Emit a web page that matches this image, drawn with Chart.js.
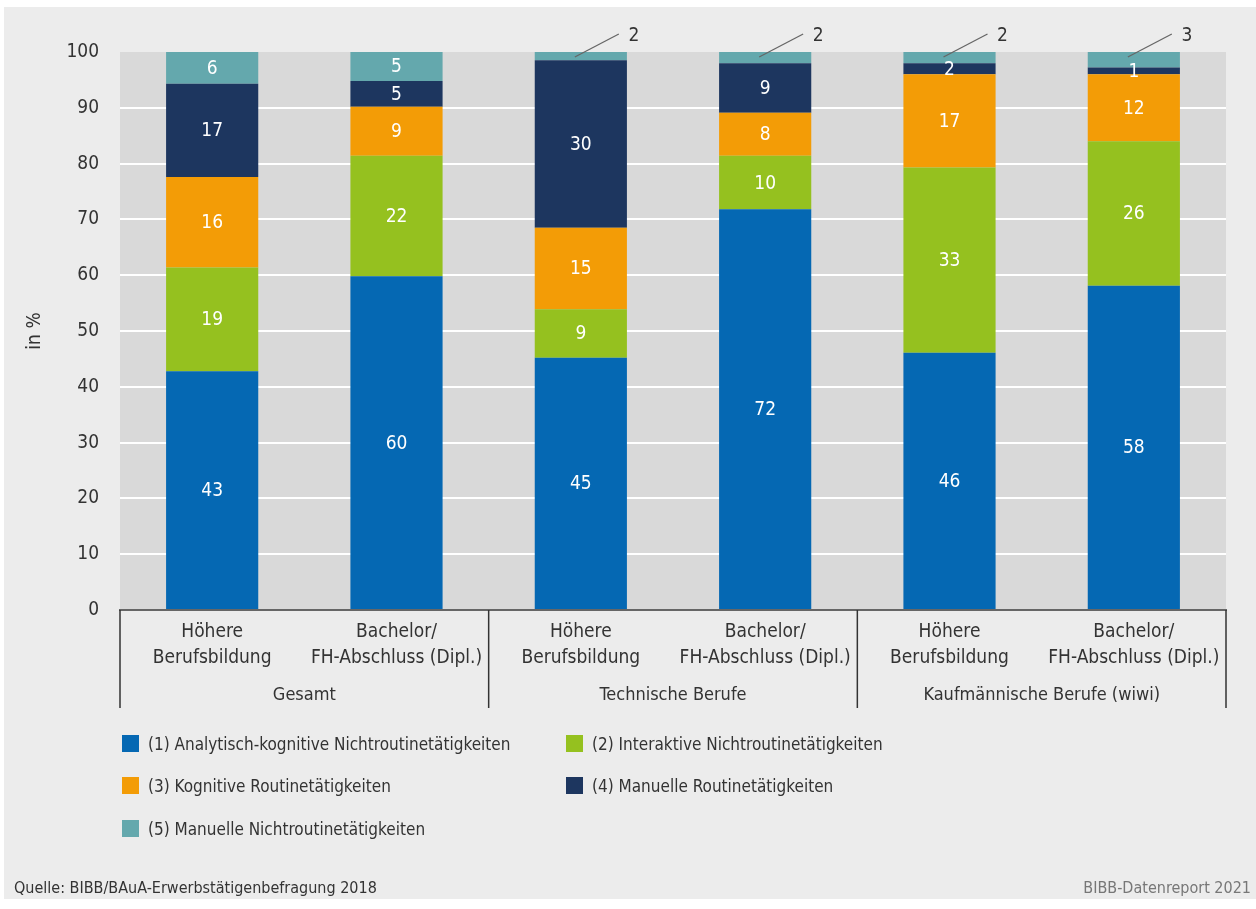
<!DOCTYPE html>
<html lang="de">
<head>
<meta charset="utf-8">
<title>Tätigkeitsschwerpunkte</title>
<script src="https://cdn.jsdelivr.net/npm/chart.js@4.4.1/dist/chart.umd.min.js"></script>
<style>
  html, body { margin: 0; padding: 0; background: #fff; }
  body { width: 1256px; height: 909px; position: relative; overflow: hidden;
         font-family: "Liberation Sans Narrow", "DejaVu Sans Condensed", sans-serif; color: #333; }
  #wrap { position: absolute; left: 0; top: 0; width: 1256px; height: 909px; }
  .legend-item { position: absolute; height: 22px; line-height: 22px; font-size: 17px; white-space: nowrap; }
  .legend-item span.box { position: absolute; left: 0; top: 2px; width: 17px; height: 17px; }
  .legend-item span.txt { position: absolute; left: 26px; top: 0; }
  .foot { position: absolute; top: 877px; font-size: 16px; line-height: 22px; white-space: nowrap; }
</style>
</head>
<body>
<div id="wrap"><canvas id="chart" width="1256" height="909"></canvas></div>
<div id="legend"></div>
<div class="foot" style="left:14px;color:#333;">Quelle: BIBB/BAuA-Erwerbstätigenbefragung 2018</div>
<div class="foot" style="right:5px;color:#777;">BIBB-Datenreport 2021</div>

<script>
// Daten (in %)
const subLabels = [
  ["Höhere", "Berufsbildung"], ["Bachelor/", "FH-Abschluss (Dipl.)"],
  ["Höhere", "Berufsbildung"], ["Bachelor/", "FH-Abschluss (Dipl.)"],
  ["Höhere", "Berufsbildung"], ["Bachelor/", "FH-Abschluss (Dipl.)"]
];
const groupLabels = ["Gesamt", "Technische Berufe", "Kaufmännische Berufe (wiwi)"];

const seriesNames = [
  "(1) Analytisch-kognitive Nichtroutinetätigkeiten",
  "(2) Interaktive Nichtroutinetätigkeiten",
  "(3) Kognitive Routinetätigkeiten",
  "(4) Manuelle Routinetätigkeiten",
  "(5) Manuelle Nichtroutinetätigkeiten"
];
const analytisch     = [42.8, 59.8, 45.2, 71.8, 46.1, 58.1];
const interaktiv     = [18.6, 21.6, 8.7, 9.6, 33.2, 25.9];
const kognitiv       = [16.2, 8.8, 14.6, 7.7, 16.7, 12.0];
const manuellRoutine = [16.7, 4.6, 30.0, 8.9, 2.0, 1.2];
const manuellNicht   = [5.7, 5.2, 1.5, 2.0, 2.0, 2.8];

const yMin = 0, yMax = 100, yStep = 10;

const colors = ["#0568b3", "#95c11f", "#f39c06", "#1d365f", "#64a8ad"];
const FONT = '"Liberation Sans Narrow", "DejaVu Sans Condensed", sans-serif';

const allSeries = [analytisch, interaktiv, kognitiv, manuellRoutine, manuellNicht];

// Legende als HTML
const legendPos = [[122, 733], [566, 733], [122, 775], [566, 775], [122, 818]];
const legendBox = document.getElementById("legend");
seriesNames.forEach((name, i) => {
  const item = document.createElement("div");
  item.className = "legend-item";
  item.style.left = legendPos[i][0] + "px";
  item.style.top = legendPos[i][1] + "px";
  item.innerHTML = '<span class="box" style="background:' + colors[i] + '"></span><span class="txt"></span>';
  item.querySelector(".txt").textContent = name;
  legendBox.appendChild(item);
});

// Hintergrund: Rahmen + Plotfläche
const backgroundPlugin = {
  id: "bgPanel",
  beforeDraw(chart) {
    const ctx = chart.ctx;
    const a = chart.chartArea;
    ctx.save();
    ctx.fillStyle = "#ffffff";
    ctx.fillRect(0, 0, chart.width, chart.height);
    ctx.fillStyle = "#ececec";
    ctx.fillRect(4, 7, chart.width - 4, 892);
    ctx.fillStyle = "#d9d9d9";
    ctx.fillRect(a.left, a.top, a.right - a.left, a.bottom - a.top);
    ctx.restore();
  }
};

// Gruppenbeschriftung und Trennlinien unter der x-Achse
const groupPlugin = {
  id: "groups",
  afterDraw(chart) {
    const ctx = chart.ctx;
    const x = chart.scales.x;
    const a = chart.chartArea;
    const bounds = [a.left];
    for (let g = 1; g < groupLabels.length; g++) {
      bounds.push((x.getPixelForValue(g * 2 - 1) + x.getPixelForValue(g * 2)) / 2);
    }
    bounds.push(a.right);
    ctx.save();
    ctx.strokeStyle = "#333";
    ctx.lineWidth = 1.5;
    bounds.forEach(bx => {
      ctx.beginPath();
      ctx.moveTo(bx, a.bottom);
      ctx.lineTo(bx, a.bottom + 98);
      ctx.stroke();
    });
    ctx.fillStyle = "#333";
    ctx.font = "18px " + FONT;
    ctx.textAlign = "center";
    ctx.textBaseline = "middle";
    groupLabels.forEach((label, g) => {
      const cx = (x.getPixelForValue(g * 2) + x.getPixelForValue(g * 2 + 1)) / 2;
      ctx.fillText(label, cx, a.bottom + 85);
    });
    ctx.restore();
  }
};

// Werte in den Balken, kleine Werte oben mit Hinweislinie
const valuePlugin = {
  id: "values",
  afterDatasetsDraw(chart) {
    const ctx = chart.ctx;
    ctx.save();
    ctx.font = "19px " + FONT;
    ctx.textAlign = "center";
    ctx.textBaseline = "middle";
    chart.data.datasets.forEach((ds, di) => {
      const meta = chart.getDatasetMeta(di);
      meta.data.forEach((bar, i) => {
        const v = ds.data[i];
        const label = String(Math.round(v));
        if (di === 4 && v < 4) {
          ctx.strokeStyle = "#666";
          ctx.lineWidth = 1.3;
          ctx.beginPath();
          ctx.moveTo(bar.x - 6, bar.y + 5);
          ctx.lineTo(bar.x + 38, bar.y - 18);
          ctx.stroke();
          ctx.fillStyle = "#333";
          ctx.fillText(label, bar.x + 53, bar.y - 16);
        } else {
          ctx.fillStyle = "#ffffff";
          ctx.fillText(label, bar.x, (bar.y + bar.base) / 2 + 1);
        }
      });
    });
    ctx.restore();
  }
};

new Chart(document.getElementById("chart"), {
  type: "bar",
  data: {
    labels: subLabels,
    datasets: allSeries.map((data, i) => ({
      label: seriesNames[i],
      data: data,
      backgroundColor: colors[i],
      borderWidth: 0,
      barPercentage: 0.5,
      categoryPercentage: 1
    }))
  },
  options: {
    responsive: false,
    animation: false,
    events: [],
    layout: { padding: { left: 0, right: 30, top: 52, bottom: 0 } },
    plugins: {
      legend: { display: false },
      tooltip: { enabled: false }
    },
    scales: {
      x: {
        stacked: true,
        grid: { display: false, drawTicks: false },
        border: { display: true, color: "#666", width: 2 },
        ticks: {
          color: "#333",
          padding: 9,
          maxRotation: 0,
          autoSkip: false,
          font: { family: FONT, size: 19, lineHeight: 26 / 19 }
        },
        afterFit(scale) { scale.height = 299; }
      },
      y: {
        stacked: true,
        min: yMin,
        max: yMax,
        border: { display: false },
        grid: {
          drawTicks: false,
          lineWidth: 2,
          color: ctx => (ctx.tick && (ctx.tick.value === yMin || ctx.tick.value === yMax)) ? "rgba(0,0,0,0)" : "#ffffff"
        },
        ticks: {
          stepSize: yStep,
          color: "#333",
          padding: 21,
          font: { family: FONT, size: 19 }
        },
        title: {
          display: true,
          text: "in %",
          color: "#333",
          padding: { top: 24, bottom: 0 },
          font: { family: FONT, size: 19, lineHeight: 1.2 }
        },
        afterFit(scale) { scale.width = 120; }
      }
    }
  },
  plugins: [backgroundPlugin, groupPlugin, valuePlugin]
});
</script>
</body>
</html>
